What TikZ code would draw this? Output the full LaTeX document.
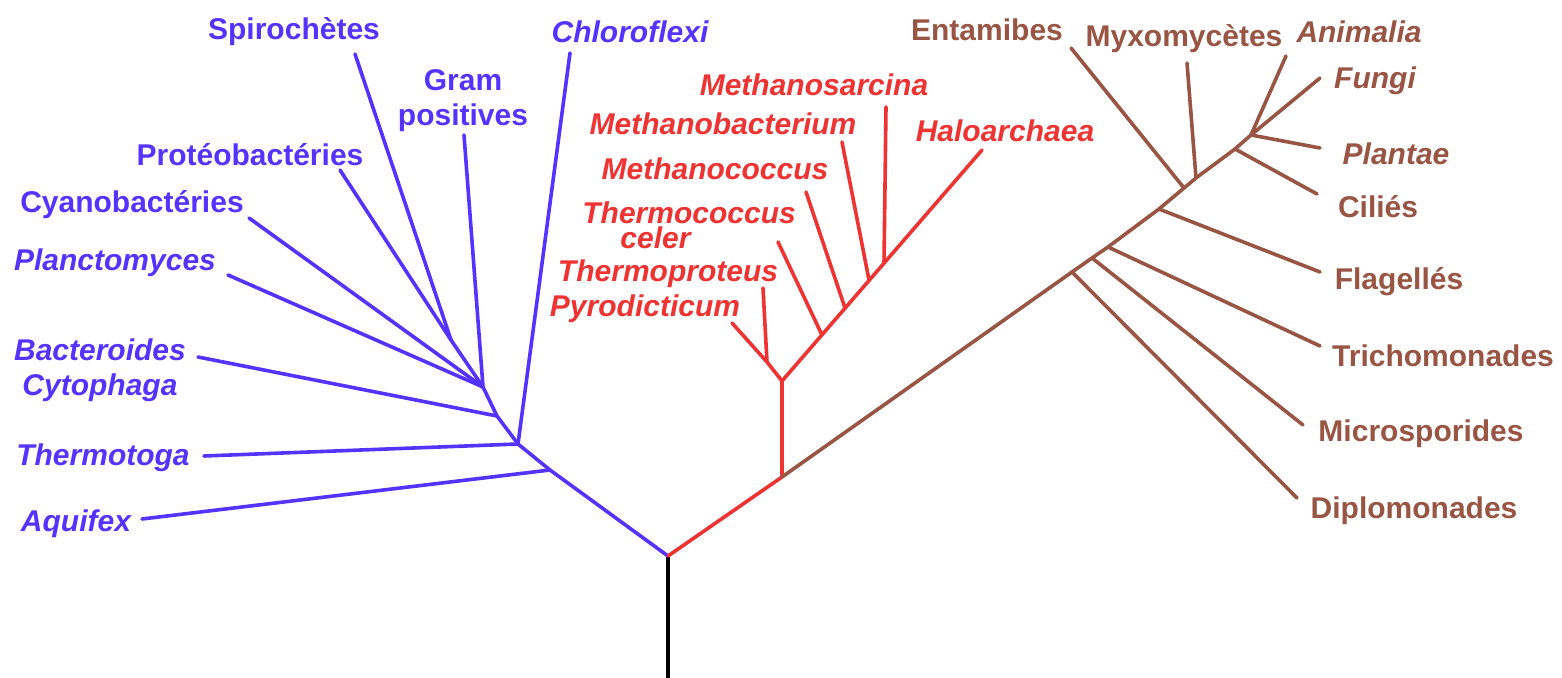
\documentclass[tikz,border=0pt]{standalone}
\usepackage{fontspec}
\setmainfont{Liberation Sans}
\definecolor{bactcol}{HTML}{5533FF}
\definecolor{archcol}{HTML}{EE3333}
\definecolor{eukcol}{HTML}{995544}
\tikzset{
	branch/.style={line width=1.8pt, line cap=round, line join=round},
	taxon/.style={font=\fontsize{15}{17.5}\selectfont\bfseries, inner sep=0pt, align=center, yshift=-1.5pt},
	genus/.style={taxon, font=\fontsize{15}{17.5}\selectfont\bfseries\itshape},
}
\begin{document}
\begin{tikzpicture}[x=0.5pt,y=-0.5pt]
\useasboundingbox (0,0) rectangle (1562,678);
\coordinate (R) at (668,556);
\coordinate (base) at (668,678);
	\draw[branch, black, line cap=butt] (base) -- (R);
	% bacteries
	\coordinate (b1) at (550,470);
	\coordinate (b2) at (518,444);
	\coordinate (b3) at (497,416);
	\coordinate (b4) at (483,387);
	\coordinate (b5) at (451,340);
	\coordinate (eAqui) at (142,519);
	\coordinate (eTmtg) at (204,456);
	\coordinate (eChlo) at (570,53);
	\coordinate (eBact) at (198,357);
	\coordinate (eGram) at (464,135);
	\coordinate (eCyan) at (249,218);
	\coordinate (ePlct) at (228,275);
	\coordinate (eSpir) at (355,54);
	\coordinate (eProt) at (340,170);
	\draw[branch, bactcol] (R) -- (b1) -- (b2) -- (b3) -- (b4) -- (b5);
	\foreach \e/\j in {eAqui/b1, eTmtg/b2, eChlo/b2, eBact/b3, eGram/b4, eCyan/b4, ePlct/b4, eSpir/b5, eProt/b5}
		\draw[branch, bactcol] (\j) -- (\e);
	\node[taxon, bactcol] (spir) at (294,29) {Spirochètes};
	\node[taxon, bactcol] (gram) at (463,98) {Gram\\positives};
	\node[genus, bactcol] (chlo) at (630,29) {Chloroflexi};
	\node[taxon, bactcol] (prot) at (250,152) {Protéobactéries};
	\node[taxon, bactcol] (cyan) at (132,202) {Cyanobactéries};
	\node[genus, bactcol] (plct) at (115,260) {Planctomyces};
	\node[genus, bactcol] (bact) at (100,367) {Bacteroides\\Cytophaga};
	\node[genus, bactcol] (tmtg) at (103,455) {Thermotoga};
	\node[genus, bactcol] (aqui) at (76,521) {Aquifex};
	% archees
	\coordinate (a1) at (782,477);
	\coordinate (a2) at (782,381);
	\coordinate (a3) at (767,362);
	\coordinate (a4) at (822,335);
	\coordinate (a5) at (845,308);
	\coordinate (a6) at (869,280);
	\coordinate (a7) at (884,263);
	\coordinate (ePyro) at (732,323);
	\coordinate (eTpro) at (763,288);
	\coordinate (eTcoc) at (778,242);
	\coordinate (eMcoc) at (806,192);
	\coordinate (eMbac) at (842,142);
	\coordinate (eMsar) at (886,107);
	\coordinate (eHalo) at (982,150);
	\draw[branch, archcol] (R) -- (a1) -- (a2) -- (eHalo);
	\foreach \e/\j in {ePyro/a3, eTpro/a3, a2/a3, eTcoc/a4, eMcoc/a5, eMbac/a6, eMsar/a7}
		\draw[branch, archcol] (\j) -- (\e);
	\node[genus, archcol] (msar) at (814,82) {Methanosarcina};
	\node[genus, archcol] (mbac) at (723,121) {Methanobacterium};
	\node[genus, archcol] (mcoc) at (715,166) {Methanococcus};
	\node[genus, archcol, anchor=west, align=left, font=\fontsize{15}{12.5}\selectfont\bfseries\itshape] (tcoc) at (582,222) {Thermococcus\\\hspace*{19pt}celer};
	\node[genus, archcol] (tpro) at (668,271) {Thermoproteus};
	\node[genus, archcol] (pyro) at (645,306) {Pyrodicticum};
	\node[genus, archcol] (halo) at (1005,128) {Haloarchaea};
	% eucaryotes
	\coordinate (e1) at (1072,272);
	\coordinate (e2) at (1092,258);
	\coordinate (e3) at (1108,247);
	\coordinate (e4) at (1159,209);
	\coordinate (e5) at (1184,188);
	\coordinate (e6) at (1196,178);
	\coordinate (e7) at (1235,149);
	\coordinate (e8) at (1251,135);
	\coordinate (eDipl) at (1297,498);
	\coordinate (eMicr) at (1303,425);
	\coordinate (eTric) at (1320,346);
	\coordinate (eFlag) at (1320,272);
	\coordinate (eEnta) at (1071,48);
	\coordinate (eMyxo) at (1187,63);
	\coordinate (eCili) at (1317,194);
	\coordinate (ePlnt) at (1320,148);
	\coordinate (eFung) at (1320,78);
	\coordinate (eAnim) at (1286,56);
	\draw[branch, eukcol] (a1) -- (e1) -- (e2) -- (e3) -- (e4) -- (e5) -- (e6) -- (e7) -- (e8);
	\foreach \e/\j in {eDipl/e1, eMicr/e2, eTric/e3, eFlag/e4, eEnta/e5, eMyxo/e6, eCili/e7, ePlnt/e8, eFung/e8, eAnim/e8}
		\draw[branch, eukcol] (\j) -- (\e);
	\node[taxon, eukcol] (enta) at (987,27) {Entamibes};
	\node[taxon, eukcol] (myxo) at (1184,36) {Myxomycètes};
	\node[genus, eukcol] (anim) at (1359,29) {Animalia};
	\node[genus, eukcol] (fung) at (1375,78) {Fungi};
	\node[genus, eukcol] (plnt) at (1396,151) {Plantae};
	\node[taxon, eukcol] (cili) at (1378,204) {Ciliés};
	\node[taxon, eukcol] (flag) at (1399,279) {Flagellés};
	\node[taxon, eukcol] (tric) at (1443,353) {Trichomonades};
	\node[taxon, eukcol] (micr) at (1421,431) {Microsporides};
	\node[taxon, eukcol] (dipl) at (1414,508) {Diplomonades};
\end{tikzpicture}
\end{document}
